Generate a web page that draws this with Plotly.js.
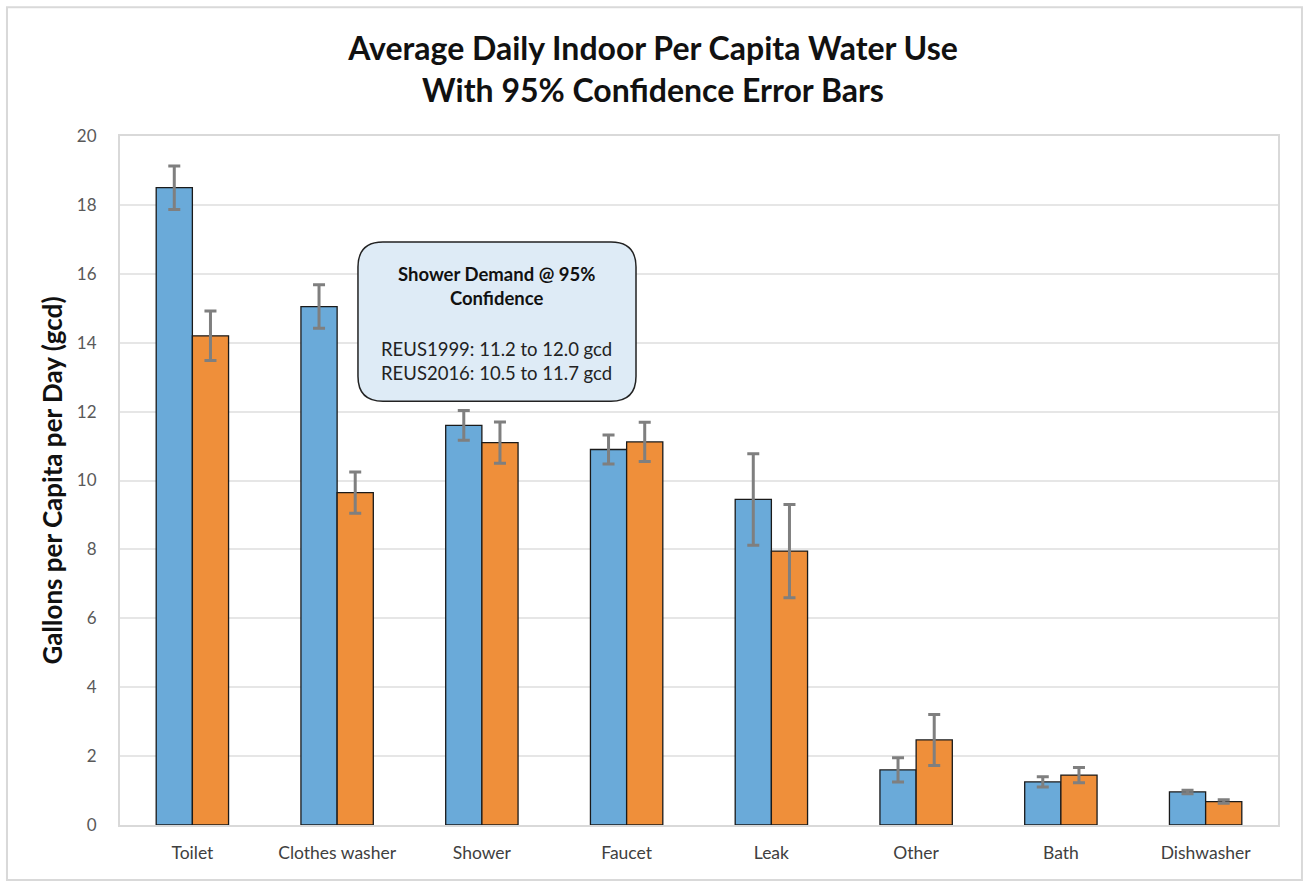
<!DOCTYPE html>
<html>
<head>
<meta charset="utf-8">
<script src="https://cdn.plot.ly/plotly-3.0.1.min.js"></script>
<style>html,body{margin:0;padding:0;background:#fff;}#chart{width:1306px;height:886px;}</style>
</head>
<body>
<div id="chart"></div>
<script>
const categories = ["Toilet", "Clothes washer", "Shower", "Faucet", "Leak", "Other", "Bath", "Dishwasher"];
const reus1999 = [18.5, 15.05, 11.6, 10.9, 9.45, 1.6, 1.25, 0.96];
const reus1999Err = [0.63, 0.63, 0.43, 0.42, 1.33, 0.35, 0.15, 0.05];
const reus2016 = [14.2, 9.65, 11.1, 11.12, 7.95, 2.47, 1.45, 0.68];
const reus2016Err = [0.72, 0.6, 0.6, 0.57, 1.35, 0.74, 0.22, 0.05];
const yTicks = [0, 2, 4, 6, 8, 10, 12, 14, 16, 18, 20];

const FONT = "Lato, 'Open Sans', sans-serif";
const errStyle = {type: 'data', visible: true, color: '#7f7f7f', thickness: 3, width: 6};

const traces = [
  {type: 'bar', name: 'REUS1999', x: categories, y: reus1999,
   marker: {color: '#6aaad9', line: {color: '#1a1a1a', width: 1.3}},
   error_y: Object.assign({array: reus1999Err}, errStyle)},
  {type: 'bar', name: 'REUS2016', x: categories, y: reus2016,
   marker: {color: '#ef8f3a', line: {color: '#1a1a1a', width: 1.3}},
   error_y: Object.assign({array: reus2016Err}, errStyle)}
];

// rounded box in paper coords
const bx0 = 0.2055, bx1 = 0.4456, by0 = 0.615, by1 = 0.846, rx = 0.0216, ry = 0.0363;
const boxPath = `M ${bx0+rx},${by1} L ${bx1-rx},${by1} Q ${bx1},${by1} ${bx1},${by1-ry} L ${bx1},${by0+ry} Q ${bx1},${by0} ${bx1-rx},${by0} L ${bx0+rx},${by0} Q ${bx0},${by0} ${bx0},${by0+ry} L ${bx0},${by1-ry} Q ${bx0},${by1} ${bx0+rx},${by1} Z`;

const layout = {
  width: 1306, height: 886,
  margin: {l: 120, r: 28, t: 136, b: 61},
  paper_bgcolor: '#ffffff', plot_bgcolor: '#ffffff',
  showlegend: false,
  barmode: 'group', bargap: 0.5, bargroupgap: 0,
  title: {text: 'Average Daily Indoor Per Capita Water Use<br>With 95% Confidence Error Bars',
          font: {family: FONT, size: 32, color: '#111', weight: 'bold'},
          x: 0.5, xref: 'container', y: 0.932, yref: 'container', yanchor: 'middle'},
  xaxis: {tickfont: {family: FONT, size: 17.5, color: '#404040'},
          showline: true, mirror: true, linecolor: '#d9d9d9', linewidth: 2,
          ticks: '', ticklabelstandoff: 11, showgrid: false},
  yaxis: {range: [0, 20], tickvals: yTicks, ticktext: yTicks.map(String),
          tickfont: {family: FONT, size: 17, color: '#595959'},
          showline: true, mirror: true, linecolor: '#d9d9d9', linewidth: 2,
          gridcolor: '#e6e6e6', gridwidth: 2, zeroline: false,
          ticks: '', ticklabelstandoff: 18,
          title: {text: 'Gallons per Capita per Day (gcd)', standoff: 7,
                  font: {family: FONT, size: 26, color: '#111', weight: 'bold'}}},
  shapes: [
    {type: 'rect', xref: 'paper', yref: 'paper', x0: -0.0976, x1: 1.0207, y0: -0.0798, y1: 1.187,
     line: {color: '#d9d9d9', width: 2}, fillcolor: 'rgba(0,0,0,0)', layer: 'below'},
    {type: 'path', xref: 'paper', yref: 'paper', path: boxPath,
     line: {color: '#222', width: 1.5}, fillcolor: '#deebf6', layer: 'above'}
  ],
  annotations: [
    {xref: 'paper', yref: 'paper', x: (bx0+bx1)/2, y: 0.782, xanchor: 'center', yanchor: 'middle',
     text: '<b>Shower Demand @ 95%<br>Confidence</b>', showarrow: false,
     font: {family: FONT, size: 18.5, color: '#111'}, align: 'center'},
    {xref: 'paper', yref: 'paper', x: (bx0+bx1)/2, y: 0.673, xanchor: 'center', yanchor: 'middle',
     text: 'REUS1999: 11.2 to 12.0 gcd<br>REUS2016: 10.5 to 11.7 gcd', showarrow: false,
     font: {family: FONT, size: 18.5, color: '#222'}, align: 'center'}
  ]
};

Plotly.newPlot('chart', traces, layout, {displayModeBar: false, staticPlot: true});
</script>
</body>
</html>
